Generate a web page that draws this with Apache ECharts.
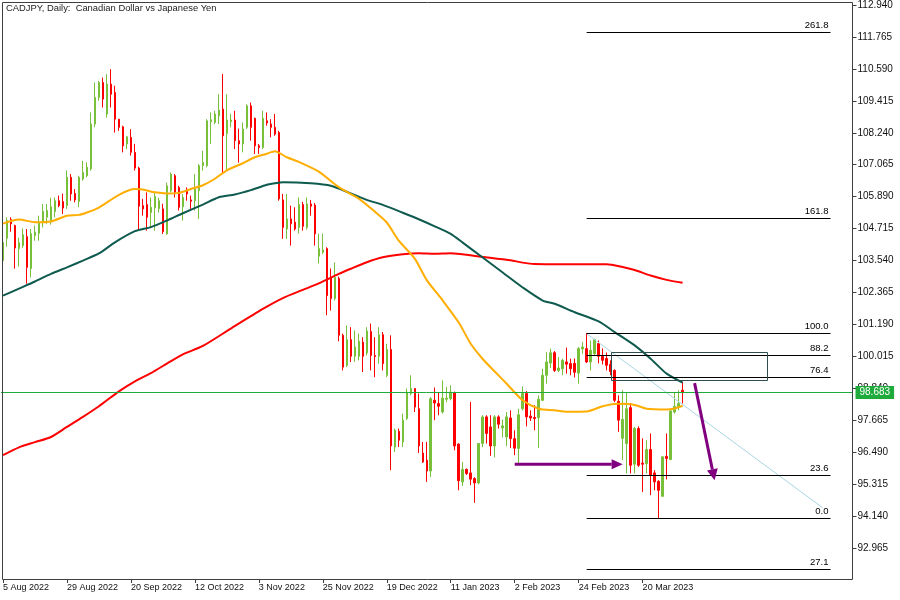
<!DOCTYPE html>
<html>
<head>
<meta charset="utf-8">
<script src="https://cdn.jsdelivr.net/npm/echarts@6/dist/echarts.min.js"></script>
<style>
html,body{margin:0;padding:0;background:#fff;}
#chart{width:900px;height:600px;}
</style>
</head>
<body>
<div id="chart"></div>
<script>
// ---------- data ----------
const titleText = 'CADJPY, Daily:  Canadian Dollar vs Japanese Yen';
const dateTicks = ['5 Aug 2022','29 Aug 2022','20 Sep 2022','12 Oct 2022','3 Nov 2022','25 Nov 2022','19 Dec 2022','11 Jan 2023','2 Feb 2023','24 Feb 2023','20 Mar 2023'];
const yTickValues = [92.965,94.140,95.315,96.490,97.665,98.840,100.015,101.190,102.365,103.540,104.715,105.890,107.065,108.240,109.415,110.590,111.765,112.940];
const lastPrice = 98.683;

// [open, close, low, high]
const candles = [
[103.54,104.20,103.36,104.35],[104.36,105.01,104.05,105.13],[105.05,104.89,104.60,105.13],[104.83,104.00,103.24,104.86],
[103.98,104.20,103.32,104.38],[104.09,104.49,104.01,104.72],[104.42,103.29,102.69,104.70],[103.25,104.53,102.92,104.70],
[104.46,104.59,104.27,104.83],[104.54,104.95,104.27,105.19],[104.95,105.35,104.76,105.62],[105.13,105.38,104.89,105.62],
[105.01,105.52,104.86,105.85],[105.34,105.74,105.13,105.86],[105.74,105.56,105.50,105.93],[105.71,105.47,105.25,106.00],
[105.56,106.60,105.44,106.85],[106.60,105.99,105.74,106.72],[106.01,105.77,105.68,106.17],[105.71,106.60,105.50,106.66],
[106.54,106.78,106.48,107.21],[106.66,106.97,106.60,107.15],[106.91,108.56,106.85,108.99],[108.56,109.54,108.44,110.09],
[109.54,110.09,109.42,110.15],[110.09,109.48,109.17,110.27],[108.93,110.03,108.80,110.40],[110.03,109.66,109.17,110.58],
[109.72,108.74,108.25,109.97],[108.74,108.44,108.31,108.75],[108.46,107.76,107.52,108.50],[107.83,108.09,107.64,108.13],
[108.07,107.52,107.40,108.37],[107.52,106.94,106.85,107.83],[106.94,105.54,104.64,106.99],[105.56,105.44,105.19,105.81],
[105.60,105.13,104.64,106.05],[105.31,105.50,104.76,105.86],[105.48,105.90,104.64,106.05],[105.45,105.74,105.30,105.85],
[105.44,104.60,104.52,105.63],[104.52,106.29,104.49,106.41],[106.11,106.72,106.05,106.78],[106.66,106.05,105.86,106.72],
[106.23,105.50,105.38,106.29],[105.52,105.86,105.01,105.99],[106.14,105.99,105.74,106.23],[105.77,105.72,105.44,105.93],
[105.74,106.17,105.38,106.72],[106.11,107.03,105.07,107.09],[107.03,107.15,106.85,107.58],[107.03,108.68,106.97,108.74],
[108.64,108.72,107.83,108.99],[108.62,108.93,108.56,109.05],[108.86,109.07,108.56,109.66],[109.11,108.13,106.74,110.40],
[108.21,108.71,106.85,109.66],[108.65,108.71,108.44,108.94],[108.71,107.95,107.64,109.05],[107.95,107.83,107.14,108.39],
[107.83,108.38,107.52,108.62],[108.44,109.23,108.38,109.29],[109.23,108.44,107.95,109.35],[108.77,107.76,107.46,108.80],
[107.76,107.70,107.46,107.83],[107.70,108.77,107.64,109.05],[108.68,108.60,108.50,108.99],[108.56,108.44,108.07,108.74],
[108.44,108.19,108.13,108.93],[108.25,105.81,105.74,108.31],[105.77,104.76,104.34,105.99],[104.70,105.07,104.34,105.99],
[105.07,104.89,104.09,105.56],[104.95,104.70,104.64,105.50],[104.76,105.60,104.53,105.86],[105.60,104.80,104.64,105.70],
[104.76,105.62,104.68,105.86],[105.62,105.54,105.19,105.77],[105.58,104.52,104.09,105.66],[103.70,103.98,103.43,104.53],
[103.85,103.93,103.78,104.53],[103.98,102.25,101.53,104.03],[102.92,102.14,101.70,103.25],[102.14,102.92,102.07,103.47],
[102.88,100.79,100.57,102.95],[100.79,99.62,99.50,100.85],[99.69,100.63,99.62,101.15],[100.63,100.02,99.81,101.09],
[100.02,100.36,99.81,100.97],[100.02,100.57,99.87,100.86],[100.54,100.02,99.44,100.72],[100.14,100.95,100.05,101.09],
[100.93,100.05,99.50,101.22],[100.05,100.01,99.25,100.72],[100.02,100.81,99.75,101.09],[100.81,99.75,99.50,100.91],
[99.32,100.27,99.25,100.48],[100.27,96.72,95.83,100.79],[96.68,97.30,96.50,97.36],[97.26,96.93,96.68,97.36],
[96.87,97.67,96.68,97.91],[97.73,98.70,97.67,98.83],[98.65,98.83,98.58,99.32],[98.83,98.15,97.97,98.85],
[98.09,96.72,96.46,98.65],[96.46,96.13,96.10,96.87],[96.20,95.80,95.40,96.87],[95.80,98.46,95.58,98.52],
[98.40,98.30,97.67,98.87],[98.28,98.18,97.85,98.70],[97.97,98.48,97.91,99.13],[98.44,98.48,98.33,98.89],
[98.46,98.70,98.40,98.95],[98.68,96.72,96.56,98.72],[96.79,95.44,95.09,96.81],[95.40,95.86,95.25,96.13],
[95.86,95.71,95.65,95.89],[95.73,95.50,95.28,98.34],[95.52,95.36,94.63,95.57],[95.36,96.81,95.31,96.83],
[96.81,97.79,96.68,97.85],[97.79,97.18,96.81,97.85],[97.42,96.72,96.36,97.85],[96.72,97.79,96.30,97.85],
[97.79,97.52,97.36,97.85],[97.38,97.46,97.03,97.69],[97.05,97.79,96.71,97.97],[97.75,96.99,96.64,98.03],
[96.99,96.64,96.38,97.30],[96.63,97.87,96.07,98.09],[98.09,98.65,98.03,98.91],[98.65,97.79,97.44,98.74],
[97.82,97.75,97.64,98.03],[97.77,97.73,97.30,98.22],[97.76,98.44,96.65,98.58],[98.40,99.32,98.37,99.56],
[99.32,99.81,99.01,100.17],[99.77,100.15,99.59,100.30],[100.15,99.50,99.44,100.21],[99.50,99.59,99.44,99.99],
[99.56,99.87,99.32,99.93],[99.81,99.73,99.38,100.34],[99.75,99.56,99.32,99.93],[99.76,99.43,99.24,99.94],
[99.40,100.30,99.01,100.36],[100.29,100.36,100.11,100.54],[100.30,99.81,99.77,100.88],[99.81,100.24,99.50,100.60],
[100.11,100.63,100.05,100.67],[100.49,100.02,99.76,100.60],[100.02,99.87,99.72,100.31],[99.94,99.69,99.50,100.16],
[99.72,99.46,99.32,99.87],[99.50,98.40,98.33,99.54],[98.36,97.67,97.24,98.58],[97.00,97.70,96.20,98.77],
[96.81,98.09,95.71,98.70],[98.13,96.01,95.71,98.30],[96.05,97.36,95.71,97.42],[97.36,96.01,95.95,97.44],
[96.09,96.05,95.03,97.00],[96.07,96.59,95.71,96.93],[96.59,95.65,94.91,97.18],[95.73,95.40,95.09,95.83],
[95.42,95.09,94.06,95.46],[94.87,96.32,94.85,96.34],[96.34,96.26,95.49,97.18],[96.22,98.01,96.20,98.06],
[97.97,98.18,97.91,98.70],[98.18,98.28,98.03,98.77],[98.77,98.683,98.28,99.07]
];

// moving averages: [bar index, value]
const maOrange = [[0,104.90],[4,105.05],[8,104.95],[12,104.98],[16,105.19],[19,105.22],[21,105.31],[24,105.49],[29,105.96],[33,106.17],[35,106.15],[38,106.05],[41,106.01],[44,106.03],[47,106.17],[50,106.31],[53,106.55],[56,106.86],[60,107.12],[63,107.34],[66,107.47],[68,107.56],[71,107.34],[74,107.17],[79,106.81],[84,106.24],[89,105.82],[93,105.34],[96,104.94],[99,104.27],[103,103.61],[106,102.82],[110,102.07],[114,101.26],[117,100.48],[120,99.92],[123,99.46],[126,99.01],[130,98.40],[134,98.09],[138,98.03],[141,97.98],[146,97.99],[150,98.18],[154,98.27],[158,98.23],[161,98.09],[166,98.06],[168,98.10],[170,98.20]];
const maTeal = [[0,102.25],[4,102.51],[8,102.77],[12,103.05],[16,103.29],[20,103.54],[24,103.80],[28,104.21],[33,104.62],[37,104.77],[41,105.01],[45,105.28],[50,105.60],[54,105.87],[58,105.97],[62,106.13],[66,106.33],[68,106.38],[70,106.42],[77,106.38],[82,106.29],[87,106.01],[91,105.77],[95,105.59],[100,105.30],[104,105.06],[108,104.80],[112,104.52],[115,104.20],[120,103.65],[125,103.10],[130,102.55],[135,102.07],[138,101.95],[143,101.64],[149,101.30],[153,100.91],[158,100.42],[162,99.93],[166,99.38],[170,99.05]];
const maRed = [[0,96.38],[4,96.67],[8,96.86],[12,97.05],[16,97.42],[20,97.79],[24,98.18],[29,98.73],[33,99.10],[37,99.40],[41,99.75],[45,100.09],[50,100.40],[57,101.04],[65,101.76],[70,102.16],[75,102.46],[79,102.70],[84,103.05],[87,103.24],[91,103.48],[95,103.66],[100,103.77],[104,103.81],[108,103.79],[112,103.81],[118,103.71],[126,103.57],[133,103.41],[143,103.40],[151,103.40],[155,103.30],[158,103.19],[162,102.99],[166,102.83],[170,102.72]];

// Fibonacci retracement
const fibHigh = 100.885, fibLow = 94.055;
const fibStartIdx = 146, fibEndIdx = 207;
const fibLevels = [0, 23.6, 76.4, 88.2, 100, 161.8, 261.8, -27.1];
const fibLabels = ['0.0','23.6','76.4','88.2','100.0','161.8','261.8','27.1'];

// drawings: [bar index, price]
const trendLine = [[146,100.85],[205,94.45]];
const zoneRect = [[152,100.16],[191,99.16]];
const arrowRight = [[128,96.05],[155,96.05]];
const arrowDown = [[173,99.03],[178,95.46]];

// ---------- categories (trading days) ----------
const MONTHS = ['Jan','Feb','Mar','Apr','May','Jun','Jul','Aug','Sep','Oct','Nov','Dec'];
const holidays = ['26 Dec 2022'];
const categories = [];
(function(){
  const d = new Date(Date.UTC(2022,7,5));
  while (categories.length < 213) {
    const wd = d.getUTCDay();
    if (wd !== 0 && wd !== 6) {
      const s = d.getUTCDate() + ' ' + MONTHS[d.getUTCMonth()] + ' ' + d.getUTCFullYear();
      if (holidays.indexOf(s) < 0) categories.push(s);
    }
    d.setUTCDate(d.getUTCDate() + 1);
  }
})();

const FONT = '"Liberation Sans", Arial, sans-serif';
const GREEN = '#78c03a', RED = '#ff0000', PURPLE = '#800080', FRAME = '#3c4043';
const crisp = v => Math.round(v) + 0.5;

function fibRender(params, api) {
  const ch = [];
  fibLevels.forEach((lv, k) => {
    const price = fibLow + lv / 100 * (fibHigh - fibLow);
    const a = api.coord([fibStartIdx, price]);
    const b = api.coord([fibEndIdx, price]);
    const y = crisp(a[1]);
    ch.push({type:'line', shape:{x1:a[0], y1:y, x2:b[0], y2:y}, style:{stroke:'#000', lineWidth:1}});
    ch.push({type:'text', style:{text:fibLabels[k], x:b[0]-2, y:y-2, textAlign:'right', textVerticalAlign:'bottom', align:'right', verticalAlign:'bottom', font:'9.5px ' + FONT, fill:'#000'}});
  });
  return {type:'group', children:ch};
}
function trendRender(params, api) {
  const a = api.coord(trendLine[0]), b = api.coord(trendLine[1]);
  return {type:'line', shape:{x1:a[0], y1:a[1], x2:b[0], y2:b[1]}, style:{stroke:'#a9d6e5', lineWidth:1}};
}
function rectRender(params, api) {
  const a = api.coord(zoneRect[0]), b = api.coord(zoneRect[1]);
  const x1 = crisp(a[0]), y1 = crisp(a[1]), x2 = crisp(b[0]), y2 = crisp(b[1]);
  return {type:'rect', shape:{x:x1, y:y1, width:x2-x1, height:y2-y1}, style:{stroke:'#2f4f4f', lineWidth:1, fill:null}};
}
function arrowShape(a, b, headLen, headHalf) {
  const dx = b[0]-a[0], dy = b[1]-a[1];
  const len = Math.sqrt(dx*dx + dy*dy);
  const ux = dx/len, uy = dy/len, px = -uy, py = ux;
  const base = [b[0]-ux*headLen, b[1]-uy*headLen];
  return [
    {type:'line', shape:{x1:a[0], y1:a[1], x2:base[0], y2:base[1]}, style:{stroke:PURPLE, lineWidth:3}},
    {type:'polygon', shape:{points:[[b[0],b[1]],[base[0]+px*headHalf, base[1]+py*headHalf],[base[0]-px*headHalf, base[1]-py*headHalf]]}, style:{fill:PURPLE}}
  ];
}
function arrowsRender(params, api) {
  const c1 = arrowShape(api.coord(arrowRight[0]), api.coord(arrowRight[1]), 11, 5);
  const c2 = arrowShape(api.coord(arrowDown[0]), api.coord(arrowDown[1]), 11, 5.5);
  return {type:'group', children:c1.concat(c2)};
}

const chart = echarts.init(document.getElementById('chart'), null, {renderer:'canvas'});
chart.setOption({
  animation: false,
  backgroundColor: '#ffffff',
  title: {
    text: titleText, left: 6, top: 4, padding: 0,
    textStyle: {fontFamily: FONT, fontSize: 9.4, fontWeight: 'normal', color: '#222'}
  },
  // plot area: bar slots exactly 4px wide, centres on half-pixels
  grid: {left: 0.5, right: 47.5, top: 2, bottom: 21, show: false},
  graphic: [{
    type: 'rect', silent: true, z: 50,
    shape: {x: 2.5, y: 2.5, width: 850, height: 577},
    style: {stroke: FRAME, fill: null, lineWidth: 1}
  }],
  xAxis: {
    type: 'category', data: categories, boundaryGap: true,
    axisLine: {show: false},
    axisTick: {show: true, length: 4, alignWithLabel: true, lineStyle: {color: FRAME}, interval: (i, v) => dateTicks.indexOf(v) >= 0},
    axisLabel: {show: true, interval: (i, v) => dateTicks.indexOf(v) >= 0, align: 'left', margin: 4,
      fontFamily: FONT, fontSize: 9, color: '#111', hideOverlap: false},
    splitLine: {show: false}
  },
  yAxis: {
    type: 'value', position: 'right', offset: 0, min: 91.827, max: 113.014, scale: true,
    axisLine: {show: false},
    axisTick: {show: true, length: 4, lineStyle: {color: FRAME}, customValues: yTickValues},
    axisLabel: {show: true, customValues: yTickValues, formatter: v => v.toFixed(3), margin: 5,
      fontFamily: FONT, fontSize: 10, color: '#111'},
    splitLine: {show: false}
  },
  series: [
    {
      type: 'candlestick', data: candles, barWidth: 2,
      itemStyle: {color: GREEN, color0: RED, borderColor: GREEN, borderColor0: RED, borderWidth: 1},
      markLine: {
        silent: true, symbol: 'none', animation: false, precision: 3,
        data: [{yAxis: lastPrice}],
        lineStyle: {color: '#1faa3c', width: 1, type: 'solid'},
        label: {show: true, position: 'end', distance: 3, formatter: () => lastPrice.toFixed(3),
          backgroundColor: '#1faa3c', color: '#fff', padding: [2, 4, 1, 4], fontFamily: FONT, fontSize: 10}
      },
      z: 2
    },
    {type: 'line', data: maRed, showSymbol: false, smooth: 0.25, lineStyle: {color: '#ff0000', width: 2}, z: 3},
    {type: 'line', data: maTeal, showSymbol: false, smooth: 0.25, lineStyle: {color: '#0e5a4f', width: 2}, z: 3},
    {type: 'line', data: maOrange, showSymbol: false, smooth: 0.25, lineStyle: {color: '#ffae00', width: 2}, z: 3},
    {type: 'custom', renderItem: trendRender, data: [[0, 100]], silent: true, z: 4},
    {type: 'custom', renderItem: fibRender, data: [[0, 100]], silent: true, z: 4},
    {type: 'custom', renderItem: rectRender, data: [[0, 100]], silent: true, z: 4},
    {type: 'custom', renderItem: arrowsRender, data: [[0, 100]], silent: true, z: 5}
  ]
});
</script>
</body>
</html>
